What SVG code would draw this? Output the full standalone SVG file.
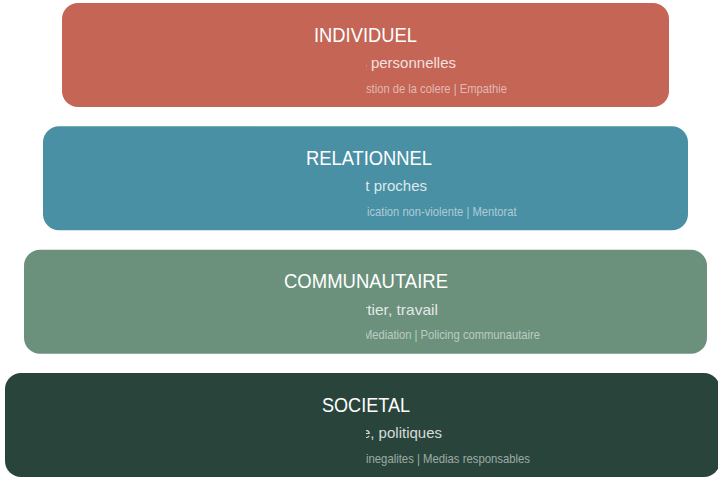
<svg xmlns="http://www.w3.org/2000/svg" width="718" height="478" viewBox="0 0 718 478">
<style>
.box{stroke:none}
.title{font-family:"Liberation Sans",Arial,sans-serif;font-size:21px;fill:#ffffff}
.sub{font-family:"Liberation Sans",Arial,sans-serif;font-size:15px;fill:#ffffff;fill-opacity:0.82;text-anchor:end}
.det{font-family:"Liberation Sans",Arial,sans-serif;font-size:13.5px;fill:#ffffff;fill-opacity:0.55}
</style>
<defs>
<clipPath id="rhs"><rect x="366" y="0" width="352" height="478"/></clipPath>
</defs>
<rect width="718" height="478" fill="#ffffff"/>
<g id="connectors"/>
<g id="individuel">
<rect class="box" x="62" y="3" width="607" height="104" rx="16" fill="#C46555"/>
<text class="title" x="314" y="41.5" textLength="103" lengthAdjust="spacingAndGlyphs">INDIVIDUEL</text>
<g clip-path="url(#rhs)">
<text class="sub" x="456" y="68">s personnelles</text>
<text class="det" x="366" y="92.5" textLength="141" lengthAdjust="spacingAndGlyphs">stion de la colere | Empathie</text>
</g>
</g>
<g id="relationnel">
<rect class="box" x="43" y="126.3" width="645" height="104" rx="16" fill="#4A90A5"/>
<text class="title" x="306" y="164.8" textLength="126" lengthAdjust="spacingAndGlyphs">RELATIONNEL</text>
<g clip-path="url(#rhs)">
<text class="sub" x="427" y="191.3">t proches</text>
<text class="det" x="367" y="215.8" textLength="149.5" lengthAdjust="spacingAndGlyphs">ication non-violente | Mentorat</text>
</g>
</g>
<g id="communautaire">
<rect class="box" x="24" y="249.7" width="683" height="104" rx="16" fill="#6B917D"/>
<text class="title" x="284" y="288.2" textLength="164" lengthAdjust="spacingAndGlyphs">COMMUNAUTAIRE</text>
<g clip-path="url(#rhs)">
<text class="sub" x="438" y="314.7" textLength="76" lengthAdjust="spacingAndGlyphs">rtier, travail</text>
<text class="det" x="363" y="339.2" textLength="177" lengthAdjust="spacingAndGlyphs">Mediation | Policing communautaire</text>
</g>
</g>
<g id="societal">
<rect class="box" x="5" y="373" width="715" height="104" rx="16" fill="#29453B"/>
<text class="title" x="322" y="411.5" textLength="88" lengthAdjust="spacingAndGlyphs">SOCIETAL</text>
<g clip-path="url(#rhs)">
<text class="sub" x="442" y="438">e, politiques</text>
<text class="det" x="366" y="462.5" textLength="164" lengthAdjust="spacingAndGlyphs">inegalites | Medias responsables</text>
</g>
</g>
</svg>
